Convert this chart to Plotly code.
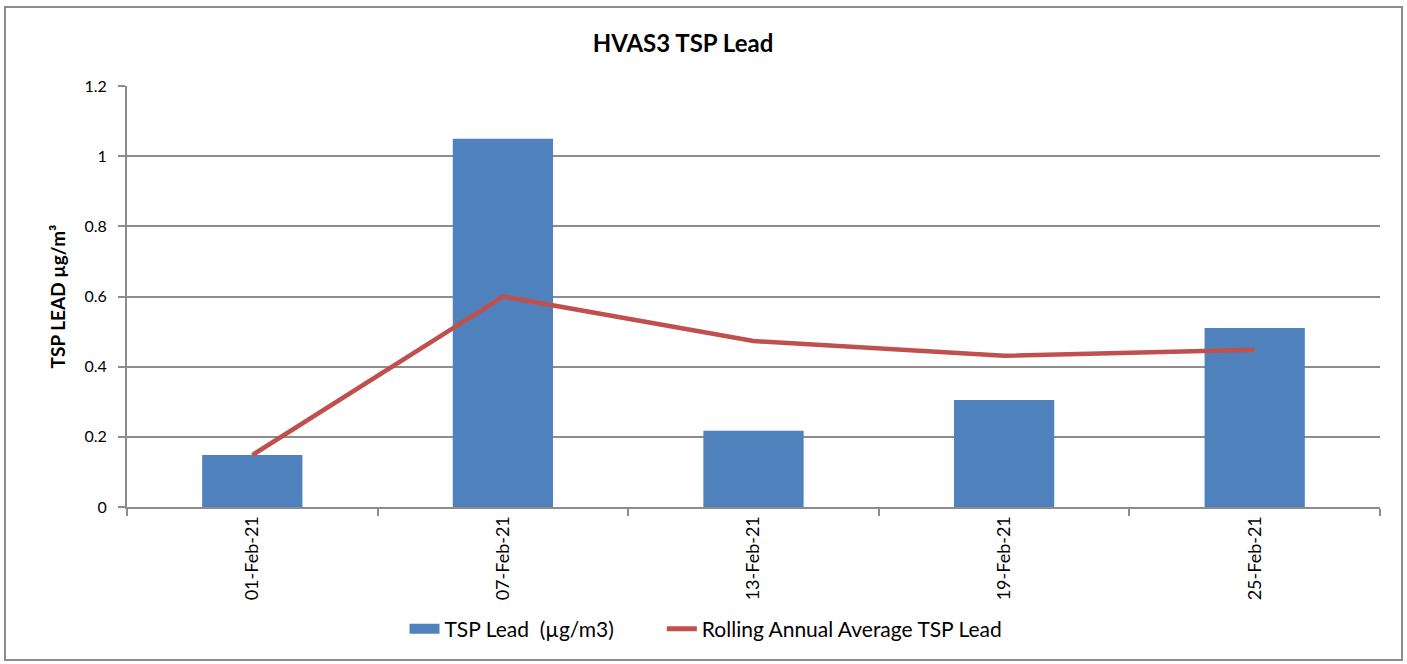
import plotly.graph_objects as go

dates = ["01-Feb-21", "07-Feb-21", "13-Feb-21", "19-Feb-21", "25-Feb-21"]
tsp_lead = [0.148, 1.05, 0.217, 0.305, 0.51]
rolling_avg = [0.148, 0.60, 0.473, 0.431, 0.448]

W, H = 1407, 664
L, R, T, B = 127, 27, 86, 157
pw, ph = W - L - R, H - T - B

def px(x):
    return (x - L) / pw

def py(y):
    return (H - B - y) / ph

FONT = "Lato, 'Open Sans', sans-serif"
GRID = "#8c8c8c"
BLUE = "#4F81BD"
RED = "#C0504D"

fig = go.Figure()
fig.add_trace(go.Bar(x=dates, y=tsp_lead, name="TSP Lead  (µg/m3)", showlegend=False,
                     marker=dict(color=BLUE, line=dict(width=0))))
fig.add_trace(go.Scatter(x=dates, y=rolling_avg, name="Rolling Annual Average TSP Lead",
                         mode="lines", line=dict(color=RED, width=4.5), showlegend=False))
# legend-only entries (Excel style keys)
fig.add_trace(go.Scatter(x=[None], y=[None], name="TSP Lead  (µg/m3)" + "\u00a0" * 8,
                         mode="lines", line=dict(color=BLUE, width=15)))
fig.add_trace(go.Scatter(x=[None], y=[None], name="Rolling Annual Average TSP Lead",
                         mode="lines", line=dict(color=RED, width=5)))

fig.update_layout(
    width=W, height=H,
    margin=dict(l=L, r=R, t=T, b=B),
    paper_bgcolor="white", plot_bgcolor="white",
    font=dict(family=FONT, size=15, color="black"),
    bargap=0.6,
    showlegend=True,
    legend=dict(orientation="h", x=px(706), xanchor="center", y=py(629), yanchor="middle",
                font=dict(size=21), traceorder="normal", itemwidth=30),
    title=dict(text="<b>HVAS3 TSP Lead</b>", x=683 / W, xanchor="center",
               xref="container", yref="container", y=1 - 44 / H, yanchor="middle",
               font=dict(size=24, family=FONT)),
    xaxis=dict(showline=True, linecolor=GRID, linewidth=2, ticks="outside",
               tickson="boundaries", ticklen=7, tickcolor=GRID, tickwidth=2,
               tickangle=-90, tickfont=dict(size=18), showgrid=False),
    yaxis=dict(range=[0, 1.2], dtick=0.2, showline=True, linecolor=GRID, linewidth=2,
               ticks="outside", ticklen=7, tickcolor=GRID, tickwidth=2,
               showgrid=True, gridcolor=GRID, gridwidth=2, zeroline=False,
               tickfont=dict(size=16), ticklabelstandoff=8,
               title=dict(text="<b>TSP LEAD µg/m³</b>", font=dict(size=19), standoff=14)),
    shapes=[dict(type="rect", xref="paper", yref="paper",
                 x0=px(5), x1=px(1402), y0=py(660), y1=py(7),
                 line=dict(color="#8c8c8c", width=2), layer="below")],
)

fig.write_html("out.html", config={"displayModeBar": False},
               post_script="document.body.style.margin='0px';")
